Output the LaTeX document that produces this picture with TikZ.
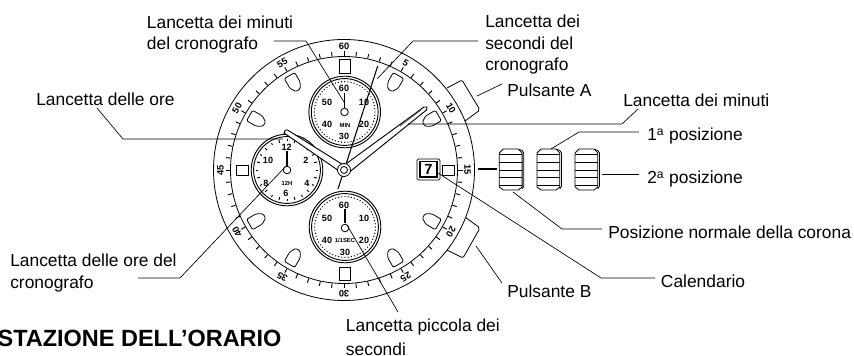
\documentclass[tikz,border=0pt]{standalone}
\usepackage{fontspec}
\setmainfont{Liberation Sans}
\newcommand{\lab}[3]{\node[lbl] at (#1,#2) {#3};}
\newcommand{\dn}[3]{\node[dnum] at (#1,#2) {#3};}
\tikzset{
  lbl/.style={anchor=base west,inner sep=0pt,font=\fontsize{13.05}{15}\selectfont},
  dnum/.style={inner sep=0pt,font=\fontsize{6.8}{7}\selectfont\bfseries},
  tinyt/.style={inner sep=0pt,font=\fontsize{4.4}{5}\selectfont\bfseries},
  leader/.style={line width=0.5pt,black},
  ln/.style={line width=0.6pt,black},
  tk/.style={line width=0.7pt,black},
  crownb/.style={line width=0.6pt,black,fill=white}
}
\begin{document}
\begin{tikzpicture}[x=0.75pt,y=-0.75pt]
\useasboundingbox (0,0) rectangle (854,356);
\clip (0,0) rectangle (854,356);
\coordinate (c) at (344,170);
% pushers
\draw[ln,fill=white,rounded corners=1.5pt] (447,88) -- (462,80) -- (480,110) -- (465,121);
\draw[ln,fill=white,rounded corners=1.5pt] (465,217) -- (480,228) -- (463,258) -- (447,250);
% case
\draw[ln,fill=white] (c) circle[radius=130.5];
\draw[ln] (c) circle[radius=113.5];
% ticks
\foreach \a in {0,6,...,354}{
  \draw[tk] ({344+114*sin(\a)},{170-114*cos(\a)}) -- ({344+118.5*sin(\a)},{170-118.5*cos(\a)});
}
% minute numbers
\foreach \a/\t in {0/60,30/5,60/10,90/15,120/20,150/25,180/30,210/35,240/40,270/45,300/50,330/55}{
  \node[inner sep=0pt,fill=white,font=\fontsize{7}{7}\selectfont\bfseries,rotate=-\a] at ({344+123.5*sin(\a)},{170-123.5*cos(\a)}) {\t};
}
% rectangular indices
\draw[ln,fill=white] (339,59) rectangle (350,73);
\draw[ln,fill=white] (339,267) rectangle (350,280);
\draw[ln,fill=white] (236,165) rectangle (248,175);
\draw[ln,fill=white] (442,165) rectangle (454,175);
% baton indices
\foreach \a in {30,60,120,150,210,240,300,330}{
  \begin{scope}[shift={(c)},rotate=\a]
    \draw[ln,fill=white,rounded corners=1pt] (-6,-109) -- (6,-109) -- (6,-98) -- (2.5,-92) -- (-2.5,-92) -- (-6,-98) -- cycle;
  \end{scope}
}
% sub dials
\foreach \x/\y in {344.7/112,287/170,345/227}{
  \draw[line width=0.7pt,fill=white] (\x,\y) circle[radius=35.8];
  \draw[line width=0.7pt] (\x,\y) circle[radius=33.4];
}
\foreach \x/\y in {344.7/112,345/227}{
  \foreach \a in {0,6,...,354}{
    \fill ({\x+30.3*sin(\a)},{\y-30.3*cos(\a)}) circle[radius=0.7];
  }
}
\foreach \a in {15,45,...,345}{
  \draw[line width=0.7pt] ({287+28*sin(\a)},{170-28*cos(\a)}) -- ({287+31*sin(\a)},{170-31*cos(\a)});
}
\foreach \a in {0,30,...,330}{
  \draw[line width=0.7pt] ({287+29*sin(\a)},{170-29*cos(\a)}) -- ({287+31*sin(\a)},{170-31*cos(\a)});
}
% dial numbers
\dn{344}{88}{60}\dn{327}{102}{50}\dn{364}{102}{10}\dn{327}{124}{40}\dn{364}{124}{20}\dn{344}{136}{30}
\node[tinyt] at (345,125) {MIN};
\dn{344}{205}{60}\dn{327}{218}{50}\dn{364}{218}{10}\dn{327}{240}{40}\dn{364}{240}{20}\dn{345}{252}{30}
\node[tinyt] at (345,240) {1/1SEC};
\dn{286.7}{147}{12}\dn{268}{160}{10}\dn{306}{160}{2}\dn{266}{183}{8}\dn{307}{183}{4}\dn{286}{193}{6}
\node[tinyt] at (287,183) {12H};
% small hands
\draw[line width=1.2pt] (344.5,93) -- (344.5,108);
\draw[ln,fill=white] (344.5,112) circle[radius=3.8];
\draw[line width=1.2pt] (345,209) -- (345,223);
\draw[ln,fill=white] (345,228) circle[radius=3.8];
\draw[line width=1.2pt] (287,151) -- (287,166);
\draw[ln,fill=white] (287,170) circle[radius=3.8];
% second hand
\draw[line width=0.8pt] (338,189) -- (377.7,66);
% main hands
\draw[line width=0.7pt,fill=white] (284,133) -- (285.5,130) -- (287.5,130) -- (345,166) -- (342,173) -- cycle;
\draw[line width=0.7pt,fill=white] (424,107) -- (427,107) -- (426.5,110) -- (347,174) -- (343,166) -- cycle;
\draw[line width=0.5,black!70] (421,110) -- (400,126);
\draw[ln,fill=white] (c) circle[radius=6.5];
\draw[ln] (c) circle[radius=3.5];
% date window
\draw[ln,fill=white,rounded corners=1pt] (417,159) rectangle (440,180);
\draw[line width=0.9pt,fill=white] (420,161.5) rectangle (437,177);
\node[inner sep=0pt,font=\fontsize{11}{12}\selectfont\bfseries] (d7) at (428.5,169.5) {7};
% crown
\draw[line width=0.9pt] (478,169) -- (497,169);
\foreach \x in {499.3,537,575}{
  \draw[line width=0.6pt] ({\x+20},149.5) -- ({\x+22.8},150.5) -- ({\x+24.5},153) -- ({\x+24.5},186) -- ({\x+22.8},189);
  \draw[crownb] ({\x+4},149) -- ({\x+19},149) -- ({\x+22.8},153) -- ({\x+22.8},187) -- ({\x+19},190) -- ({\x+4},190) -- (\x,187) -- (\x,153) -- cycle;
  \foreach \yy in {154,162,170,177,185}{
    \draw[line width=0.5pt] (\x,\yy) -- ({\x+22.8},\yy);
  }
}
% leaders
\coordinate (l1) at (274,41);\coordinate (l1b) at (306,41);\coordinate (l1c) at (344,102);
\draw[leader] (l1) -- (l1b) -- (l1c);
\coordinate (l2) at (478,41);\coordinate (l2b) at (413,41);\coordinate (l2c) at (377,79);
\draw[leader] (l2) -- (l2b) -- (l2c);
\coordinate (l3) at (502,84);\coordinate (l3b) at (477,96);
\draw[leader] (l3) -- (l3b);
\coordinate (l4) at (638,109);\coordinate (l4b) at (622,124);\coordinate (l4c) at (408,124);
\draw[leader] (l4) -- (l4b) -- (l4c);
\coordinate (l5) at (639,132);\coordinate (l5b) at (579,132);\coordinate (l5c) at (551,149);
\draw[leader] (l5) -- (l5b) -- (l5c);
\coordinate (l6) at (639,174);\coordinate (l6b) at (602,174);
\draw[leader] (l6) -- (l6b);
\coordinate (l7) at (602,229);\coordinate (l7b) at (562,229);\coordinate (l7c) at (513,192);
\draw[leader] (l7) -- (l7b) -- (l7c);
\coordinate (l8) at (502,283);\coordinate (l8b) at (476,246);
\draw[leader] (l8) -- (l8b);
\coordinate (l9) at (655,278);\coordinate (l9b) at (601,278);\coordinate (l9c) at (438,173);
\draw[leader] (l9) -- (l9b) -- (l9c);
\coordinate (l10) at (398,312);\coordinate (l10b) at (347,225);
\draw[leader] (l10) -- (l10b);
\coordinate (l11) at (138,278);\coordinate (l11b) at (180,278);\coordinate (l11c) at (287,165);
\draw[leader] (l11) -- (l11b) -- (l11c);
\coordinate (l12) at (97,108);\coordinate (l12b) at (123,139);\coordinate (l12c) at (283,139);
\draw[leader] (l12) -- (l12b) -- (l12c);
% labels
\lab{146.7}{29}{Lancetta dei minuti}
\lab{146.7}{50}{del cronografo}
\lab{485}{28}{Lancetta dei}
\lab{485}{49.5}{secondi del}
\lab{485}{70.5}{cronografo}
\lab{36}{105.7}{Lancetta delle ore}
\lab{507}{97}{Pulsante A}
\lab{623}{107}{Lancetta dei minuti}
\lab{647}{141}{1\textsuperscript{a} posizione}
\lab{647}{184}{2\textsuperscript{a} posizione}
\lab{608}{239}{Posizione normale della corona}
\lab{660.7}{287}{Calendario}
\lab{507}{297}{Pulsante B}
\lab{10}{267}{Lancetta delle ore del}
\lab{10}{289}{cronografo}
\lab{345.7}{331}{Lancetta piccola dei}
\lab{345.7}{355}{secondi}
\node[anchor=base east,inner sep=0pt,font=\fontsize{17.6}{19}\selectfont\bfseries] (title) at (281.7,346.7) {STAZIONE DELL’ORARIO};
\end{tikzpicture}
\end{document}
